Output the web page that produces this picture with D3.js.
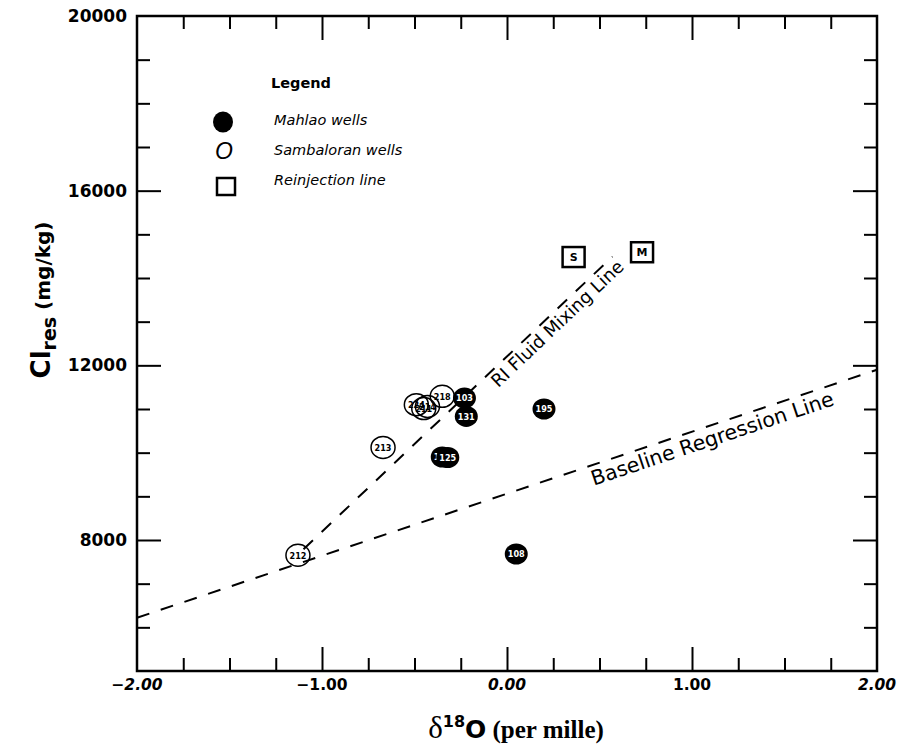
<!DOCTYPE html>
<html>
<head>
<meta charset="utf-8">
<script src="https://cdn.jsdelivr.net/npm/d3@7"></script>
<style>
  html, body { margin: 0; padding: 0; background: #fff; }
  svg { display: block; }
</style>
</head>
<body>
<div id="chart"></div>
<script>
// Mahlao wells (filled circles)
const mahlaoIds  = ['103', '131', '195', '108', '192', '125'];
const mahlaoD18O = [-0.23, -0.22, 0.20, 0.05, -0.35, -0.32];
const mahlaoCl   = [11250, 10830, 11000, 7680, 9900, 9890];

// Sambaloran wells (open circles)
const sambaIds  = ['212', '213', '224', '211', '214', '218'];
const sambaD18O = [-1.13, -0.67, -0.49, -0.45, -0.43, -0.35];
const sambaCl   = [7650, 10120, 11100, 11010, 11060, 11290];

// Reinjection end members (squares)
const rjIds  = ['S', 'M'];
const rjD18O = [0.36, 0.73];
const rjCl   = [14480, 14590];

// dashed reference lines
const mixingX   = [-1.10, 0.57];
const mixingY   = [7790, 14490];
const baselineX = [-2.0, 2.0];
const baselineY = [6220, 11900];

// ticks
const xMajor  = [-1, 0, 1];
const xMinor  = [-1.75, -1.5, -1.25, -0.75, -0.5, -0.25, 0.25, 0.5, 0.75, 1.25, 1.5, 1.75];
const xLabels = [-2, -1, 0, 1, 2];
const yMajor  = [8000, 12000, 16000];
const yMinor  = [6000, 7000, 9000, 10000, 11000, 13000, 14000, 15000, 17000, 18000, 19000];
const yLabels = [8000, 12000, 16000, 20000];

const W = 904, H = 748;
const mLeft = 137, mRight = 877, mTop = 16, mBottom = 671;
const SANS = "'DejaVu Sans', Verdana, sans-serif";

const svg = d3.select('#chart').append('svg')
  .attr('width', W)
  .attr('height', H);

const x = d3.scaleLinear().domain([-2, 2]).range([mLeft, mRight]);
const y = d3.scaleLinear().domain([5000, 20000]).range([mBottom, mTop]);

// Inward ticks on all four sides
function ticks(axis, tr, values, len) {
  svg.append('g')
    .attr('transform', tr)
    .call(axis.tickValues(values).tickSize(-len).tickFormat(''))
    .call(g => g.select('.domain').remove())
    .call(g => g.selectAll('line').attr('stroke', '#000').attr('stroke-width', 2));
}
ticks(d3.axisBottom(x), `translate(0,${mBottom})`, xMinor, 13);
ticks(d3.axisBottom(x), `translate(0,${mBottom})`, xMajor, 24);
ticks(d3.axisTop(x), `translate(0,${mTop})`, xMinor, 13);
ticks(d3.axisTop(x), `translate(0,${mTop})`, xMajor, 24);
ticks(d3.axisLeft(y), `translate(${mLeft},0)`, yMinor, 13);
ticks(d3.axisLeft(y), `translate(${mLeft},0)`, yMajor, 24);
ticks(d3.axisRight(y), `translate(${mRight},0)`, yMinor, 13);
ticks(d3.axisRight(y), `translate(${mRight},0)`, yMajor, 24);

// Frame
svg.append('rect')
  .attr('x', mLeft).attr('y', mTop)
  .attr('width', mRight - mLeft).attr('height', mBottom - mTop)
  .attr('fill', 'none')
  .attr('stroke', '#000')
  .attr('stroke-width', 2.5);

// Tick labels
svg.append('g').selectAll('text')
  .data(xLabels)
  .join('text')
  .attr('x', d => x(d))
  .attr('y', mBottom + 19)
  .attr('text-anchor', 'middle')
  .attr('font-family', SANS)
  .attr('font-weight', 'bold')
  .attr('font-style', d => (d === -1 || d === 1) ? 'normal' : 'italic')
  .attr('font-size', 15.5)
  .text(d => d3.format('.2f')(d));

svg.append('g').selectAll('text')
  .data(yLabels)
  .join('text')
  .attr('x', mLeft - 10)
  .attr('y', d => y(d))
  .attr('dy', '0.36em')
  .attr('text-anchor', 'end')
  .attr('font-family', SANS)
  .attr('font-weight', 'bold')
  .attr('font-size', 17)
  .text(d => d);

// Axis titles
const xt = svg.append('text')
  .attr('x', 516)
  .attr('y', 738)
  .attr('text-anchor', 'middle')
  .attr('font-weight', 'bold');
xt.append('tspan').attr('font-family', "'Liberation Serif', serif").attr('font-weight', 'normal').attr('font-size', 31).text('δ');
xt.append('tspan').attr('font-family', SANS).attr('font-size', 16).attr('dy', -11).text('18');
xt.append('tspan').attr('font-family', SANS).attr('font-size', 25).attr('dy', 11).text('O');
xt.append('tspan').attr('font-family', "'Liberation Serif', serif").attr('font-size', 25).text('  (per mille)');

const yt = svg.append('text')
  .attr('transform', 'translate(50,300) rotate(-90)')
  .attr('text-anchor', 'middle')
  .attr('font-family', SANS)
  .attr('font-weight', 'bold');
yt.append('tspan').attr('font-size', 26).text('Cl');
yt.append('tspan').attr('font-size', 19).attr('dy', 6).text('res');
yt.append('tspan').attr('font-size', 20).attr('dy', -6).text('  (mg/kg)');

// Dashed lines
const line = d3.line().x(d => x(d[0])).y(d => y(d[1]));
function dashed(xs, ys) {
  svg.append('path')
    .datum(d3.zip(xs, ys))
    .attr('d', line)
    .attr('fill', 'none')
    .attr('stroke', '#000')
    .attr('stroke-width', 2)
    .attr('stroke-dasharray', '13,12');
}
dashed(mixingX, mixingY);
dashed(baselineX, baselineY);

// Line labels, rotated along the line
function lineLabel(xs, ys, along, offset, size, txt) {
  const x0 = x(xs[0]), y0 = y(ys[0]), x1 = x(xs[1]), y1 = y(ys[1]);
  const len = Math.hypot(x1 - x0, y1 - y0);
  const ux = (x1 - x0) / len, uy = (y1 - y0) / len;
  const px = x0 + ux * along - uy * offset;
  const py = y0 + uy * along + ux * offset;
  const ang = Math.atan2(y1 - y0, x1 - x0) * 180 / Math.PI;
  svg.append('text')
    .attr('transform', `translate(${px},${py}) rotate(${ang})`)
    .attr('font-family', SANS)
    .attr('font-size', size)
    .text(txt);
}
lineLabel(mixingX, mixingY, 252, 17, 18, 'RI Fluid Mixing Line');
lineLabel(baselineX, baselineY, 475, 20, 20.5, 'Baseline Regression Line');

// Sambaloran wells
const samba = d3.zip(sambaIds, sambaD18O, sambaCl);
const sg = svg.append('g').selectAll('g')
  .data(samba)
  .join('g')
  .attr('transform', d => `translate(${x(d[1])},${y(d[2])})`);
sg.append('ellipse')
  .attr('rx', 12).attr('ry', 11)
  .attr('fill', 'none')
  .attr('stroke', '#000')
  .attr('stroke-width', 1.5);
sg.append('text')
  .attr('text-anchor', 'middle')
  .attr('dy', '0.36em')
  .attr('font-family', "'DejaVu Sans Condensed', " + SANS)
  .attr('font-weight', 'bold')
  .attr('font-size', 9)
  .text(d => d[0]);

// Mahlao wells
const mahlao = d3.zip(mahlaoIds, mahlaoD18O, mahlaoCl);
const mg = svg.append('g').selectAll('g')
  .data(mahlao)
  .join('g')
  .attr('transform', d => `translate(${x(d[1])},${y(d[2])})`);
mg.append('ellipse')
  .attr('rx', 11.5).attr('ry', 10.5)
  .attr('fill', '#000');
mg.append('text')
  .attr('text-anchor', 'middle')
  .attr('dy', '0.36em')
  .attr('fill', '#fff')
  .attr('font-family', "'DejaVu Sans Condensed', " + SANS)
  .attr('font-weight', 'bold')
  .attr('font-size', 9)
  .text(d => d[0]);

// Reinjection squares
const rj = d3.zip(rjIds, rjD18O, rjCl);
const rg = svg.append('g').selectAll('g')
  .data(rj)
  .join('g')
  .attr('transform', d => `translate(${x(d[1])},${y(d[2])})`);
rg.append('rect')
  .attr('x', -11).attr('y', -10)
  .attr('width', 22).attr('height', 20)
  .attr('fill', '#fff')
  .attr('stroke', '#000')
  .attr('stroke-width', 2.5);
rg.append('text')
  .attr('text-anchor', 'middle')
  .attr('dy', '0.36em')
  .attr('font-family', SANS)
  .attr('font-weight', 'bold')
  .attr('font-size', 11)
  .text(d => d[0]);

// Legend
const lg = svg.append('g');
lg.append('text')
  .attr('x', 271).attr('y', 88)
  .attr('font-family', SANS)
  .attr('font-weight', 'bold')
  .attr('font-size', 14.5)
  .text('Legend');
lg.append('ellipse')
  .attr('cx', 223).attr('cy', 122)
  .attr('rx', 10).attr('ry', 10.5)
  .attr('fill', '#000');
lg.append('text')
  .attr('x', 224).attr('y', 159)
  .attr('text-anchor', 'middle')
  .attr('font-family', "'Liberation Sans', Arial, sans-serif")
  .attr('font-style', 'italic')
  .attr('font-size', 23)
  .text('O');
lg.append('rect')
  .attr('x', 217).attr('y', 178)
  .attr('width', 18).attr('height', 17)
  .attr('fill', 'none')
  .attr('stroke', '#000')
  .attr('stroke-width', 2.5);
const legendItems = ['Mahlao wells', 'Sambaloran wells', 'Reinjection line'];
lg.selectAll('text.item')
  .data(legendItems)
  .join('text')
  .attr('class', 'item')
  .attr('x', 274)
  .attr('y', (d, i) => 125 + i * 30)
  .attr('font-family', SANS)
  .attr('font-style', 'italic')
  .attr('font-size', 14.5)
  .text(d => d);
</script>
</body>
</html>
